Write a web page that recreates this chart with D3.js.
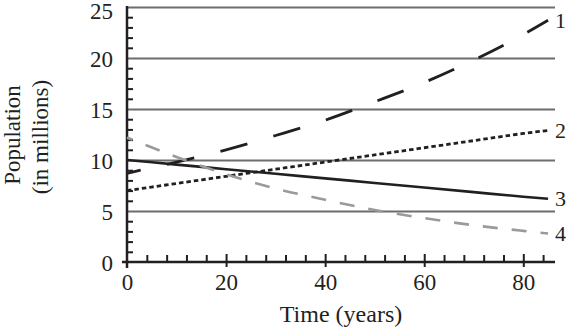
<!DOCTYPE html>
<html>
<head>
<meta charset="utf-8">
<script src="https://cdn.jsdelivr.net/npm/d3@7"></script>
<style>
  html, body { margin: 0; padding: 0; background: #fff; }
  svg { display: block; }
  text { font-family: "Liberation Serif", "DejaVu Serif", serif; fill: #231f20; }
</style>
</head>
<body>
<svg id="chart" width="566" height="330"></svg>
<script>
// ---- data ----
const years = [0, 10, 20, 30, 40, 50, 60, 70, 80, 85];
const pop1 = [8.7, 9.8, 11.0, 12.4, 13.9, 15.7, 17.6, 19.8, 22.3, 23.7];
const pop2 = [7.0, 7.7, 8.4, 9.1, 9.8, 10.5, 11.2, 11.9, 12.6, 12.9];
const pop3 = [10.0, 9.55, 9.1, 8.65, 8.2, 7.75, 7.3, 6.85, 6.4, 6.2];
const pop4 = [12.2, 10.3, 8.6, 7.2, 6.1, 5.1, 4.3, 3.6, 3.05, 2.8];
const seriesNames = ["1", "2", "3", "4"];
const xTickValues = [0, 20, 40, 60, 80];
const yTickValues = [0, 5, 10, 15, 20, 25];
const xTitle = "Time (years)";
const yTitle1 = "Population";
const yTitle2 = "(in millions)";

// ---- layout ----
const svg = d3.select("#chart");
const x = d3.scaleLinear().domain([0, 86.4]).range([127, 555]);
const y = d3.scaleLinear().domain([0, 25]).range([262, 7]);
const ink = "#231f20";

// gridlines
const grid = svg.append("g").attr("transform", `translate(${x(0)},0)`)
  .call(d3.axisLeft(y).tickValues(yTickValues.filter(v => v > 0))
    .tickSize(-(x(86.4) - x(0))).tickFormat(""));
grid.select(".domain").remove();
grid.selectAll("line").attr("stroke", "#6d6d6d").attr("stroke-width", 2);

// minor y ticks (every 1)
const yMinor = d3.range(1, 25).filter(v => v % 5 !== 0);
const gy = svg.append("g").attr("transform", `translate(${x(0)},0)`)
  .call(d3.axisLeft(y).tickValues(yMinor).tickSize(-6).tickFormat(""));
gy.select(".domain").remove();
gy.selectAll("line").attr("stroke", ink).attr("stroke-width", 2);

// minor x ticks (every 4)
const xMinor = d3.range(4, 86, 4).filter(v => v % 20 !== 0);
const gx = svg.append("g").attr("transform", `translate(0,${y(0)})`)
  .call(d3.axisBottom(x).tickValues(xMinor).tickSize(-7).tickFormat(""));
gx.select(".domain").remove();
gx.selectAll("line").attr("stroke", ink).attr("stroke-width", 2);

// major x ticks
const gxM = svg.append("g").attr("transform", `translate(0,${y(0) + 5})`)
  .call(d3.axisBottom(x).tickValues(xTickValues.filter(v => v > 0)).tickSize(-13).tickFormat(""));
gxM.select(".domain").remove();
gxM.selectAll("line").attr("stroke", ink).attr("stroke-width", 2);

// axis lines
svg.append("line").attr("x1", x(0) - 5).attr("x2", x(86.4)).attr("y1", y(0)).attr("y2", y(0))
  .attr("stroke", ink).attr("stroke-width", 2.5);
svg.append("line").attr("x1", x(0)).attr("x2", x(0)).attr("y1", y(0) + 6).attr("y2", y(25) - 1)
  .attr("stroke", ink).attr("stroke-width", 2.5);

// tick labels
const yl = svg.append("g").attr("transform", `translate(${x(0) - 14},0)`)
  .call(d3.axisLeft(y).tickValues(yTickValues).tickSize(0).tickPadding(0));
yl.select(".domain").remove();
yl.selectAll("text").attr("font-size", 23).attr("font-family", "Liberation Serif").attr("fill", ink)
  .attr("dy", d => d === 25 ? "0.5em" : "0.36em");

const xl = svg.append("g").attr("transform", `translate(0,${y(0)})`)
  .call(d3.axisBottom(x).tickValues(xTickValues).tickSize(0).tickPadding(0));
xl.select(".domain").remove();
xl.selectAll("text").attr("font-size", 23).attr("font-family", "Liberation Serif").attr("fill", ink).attr("y", 28).attr("dy", 0);

// titles
svg.append("text").attr("x", (x(0) + x(86.4)) / 2).attr("y", 322).attr("text-anchor", "middle")
  .attr("font-size", 24).text(xTitle);
svg.append("text").attr("transform", "translate(20,135) rotate(-90)").attr("text-anchor", "middle")
  .attr("font-size", 23).text(yTitle1);
svg.append("text").attr("transform", "translate(48,137) rotate(-90)").attr("text-anchor", "middle")
  .attr("font-size", 23).text(yTitle2);

// series
const series = [
  { vals: pop1, color: ink, width: 2.8, dash: "28,27", offset: 14 },
  { vals: pop2, color: ink, width: 2.8, dash: "4.5,3", offset: 0 },
  { vals: pop3, color: ink, width: 2.6, dash: null, offset: 0 },
  { vals: pop4, color: "#9a9a9a", width: 2.6, dash: "15,14", offset: 9 }
];
const line = d3.line().x(d => x(d[0])).y(d => y(d[1])).curve(d3.curveMonotoneX);
series.forEach((s, i) => {
  const pts = years.map((yr, j) => [yr, s.vals[j]]);
  const p = svg.append("path").datum(pts).attr("d", line)
    .attr("fill", "none").attr("stroke", s.color).attr("stroke-width", s.width);
  if (s.dash) p.attr("stroke-dasharray", s.dash).attr("stroke-dashoffset", s.offset);
  svg.append("text").attr("x", x(years[years.length - 1]) + 7)
    .attr("y", y(s.vals[s.vals.length - 1])).attr("dy", "0.34em")
    .attr("font-size", 22).text(seriesNames[i]);
});
</script>
</body>
</html>
